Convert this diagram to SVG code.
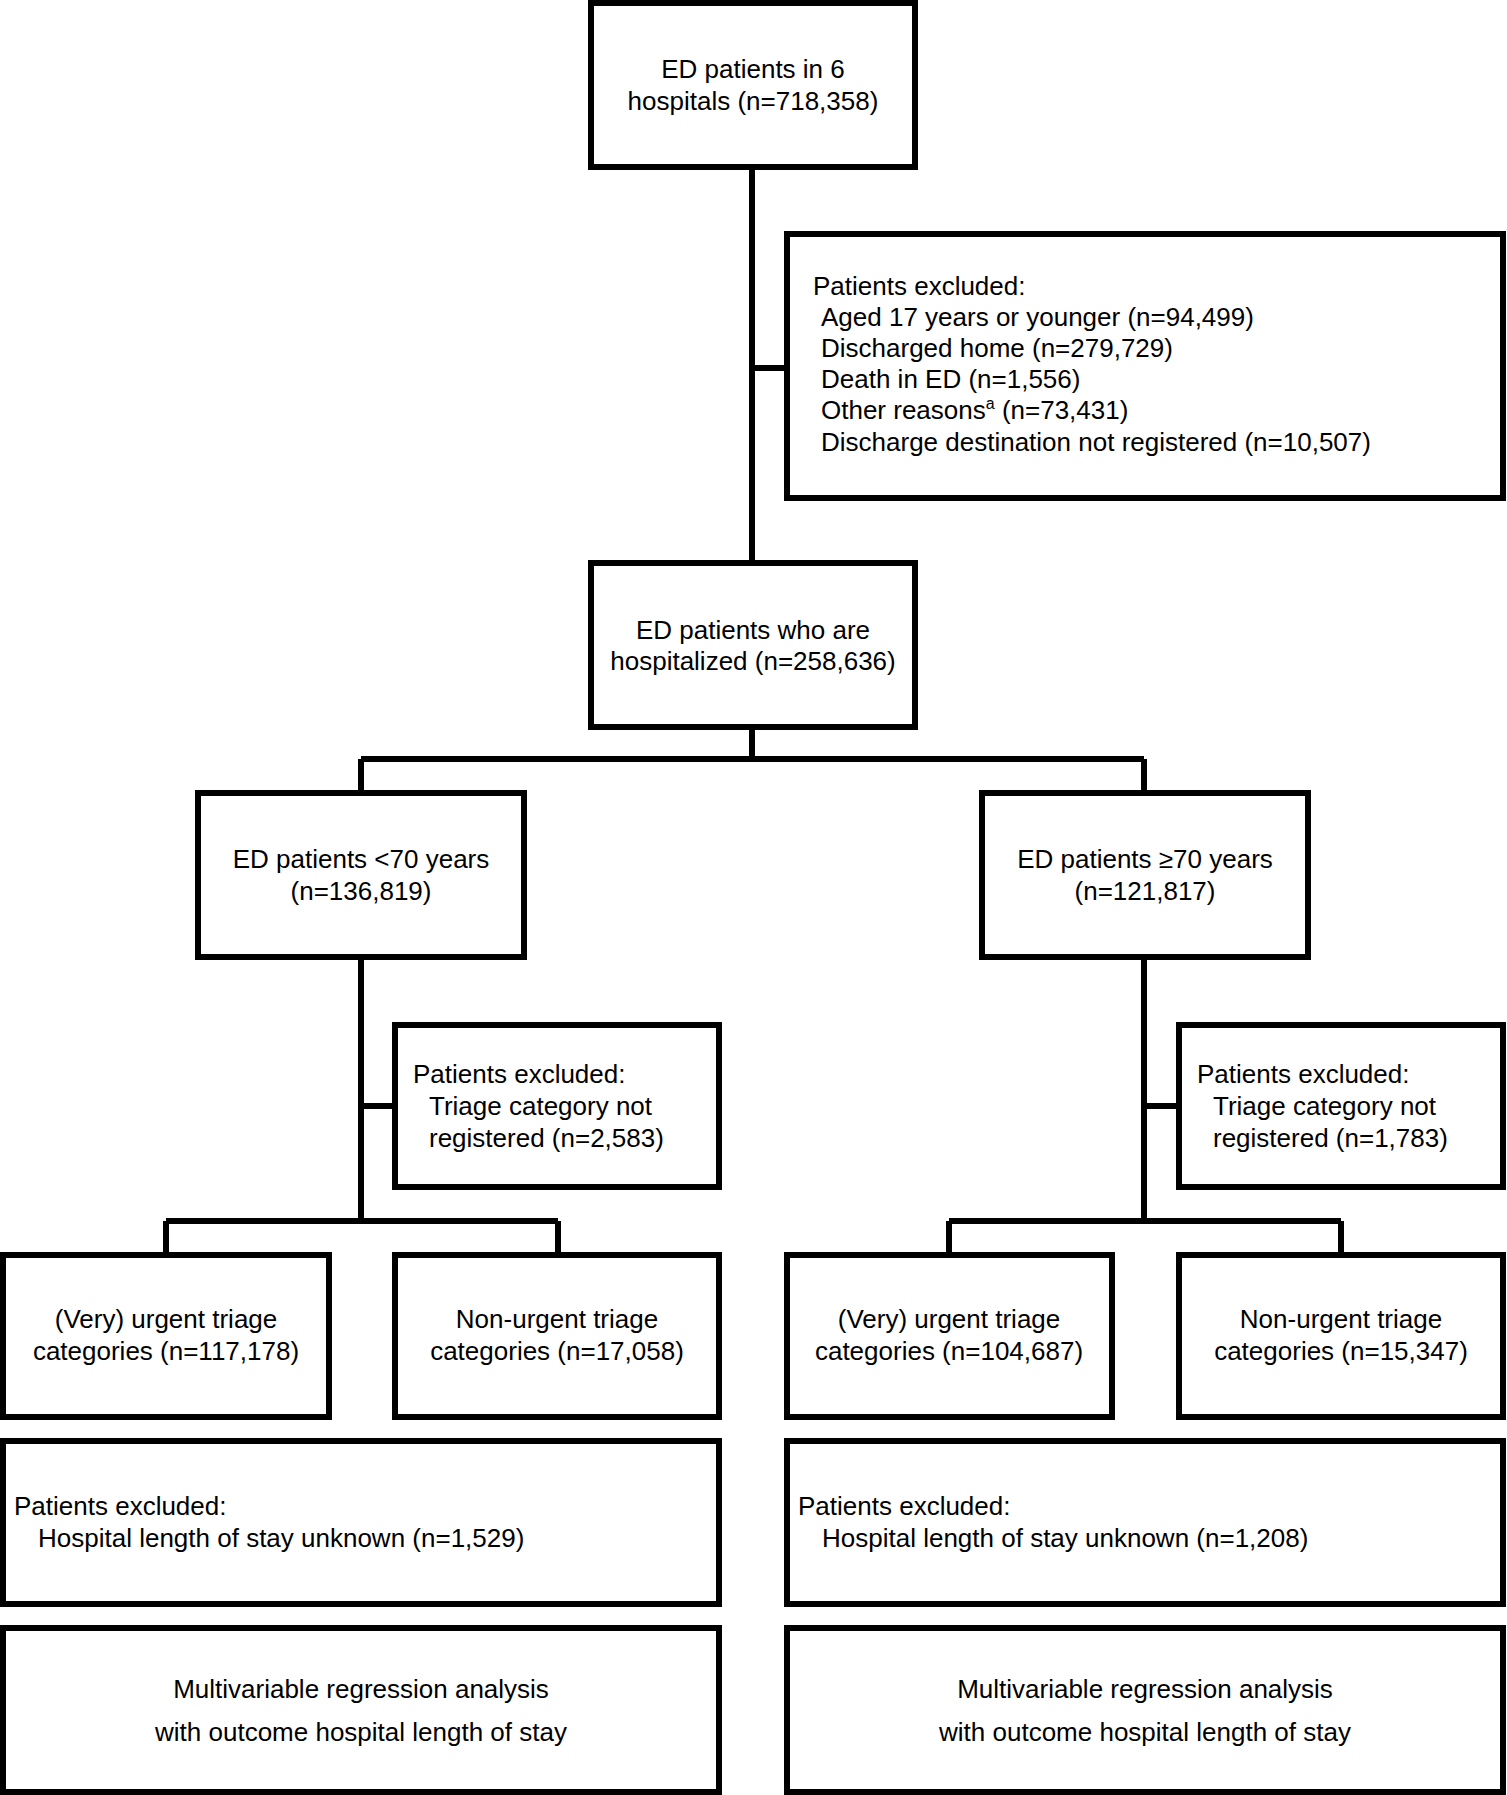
<svg xmlns="http://www.w3.org/2000/svg" width="1507" height="1795" viewBox="0 0 1507 1795">
<style>
rect{fill:#fff;stroke:#000;stroke-width:6}
.c{fill:none;stroke:#000;stroke-width:6}
text{font-family:"Liberation Sans",Arial,sans-serif;font-size:26px;fill:#000}
.m{text-anchor:middle}
</style>
<rect x="0" y="0" width="1507" height="1795" style="stroke:none"/>
<g id="connectors">
<path class="c" d="M752 167V563M752 368H787M752 727V759M361 759H1144M361 759V793M1144 759V793M361 957V1221M361 1106H395M166 1221H558M166 1221V1255M558 1221V1255M1144 957V1221M1144 1106H1179M949 1221H1341M949 1221V1255M1341 1221V1255"/>
</g>
<g id="n1"><rect x="591" y="3" width="324" height="164"/><text class="m" x="753" y="78">ED patients in 6</text><text class="m" x="753" y="110">hospitals (n=718,358)</text></g>
<g id="ex1"><rect x="787" y="234" width="716" height="264"/>
<text x="813" y="295">Patients excluded:</text>
<text x="821" y="326">Aged 17 years or younger (n=94,499)</text>
<text x="821" y="357">Discharged home (n=279,729)</text>
<text x="821" y="388">Death in ED (n=1,556)</text>
<text x="821" y="419">Other reasons<tspan font-size="16" dy="-10">a</tspan><tspan dy="10"> (n=73,431)</tspan></text>
<text x="821" y="451">Discharge destination not registered (n=10,507)</text></g>
<g id="n2"><rect x="591" y="563" width="324" height="164"/><text class="m" x="753" y="639">ED patients who are</text><text class="m" x="753" y="670">hospitalized (n=258,636)</text></g>
<g id="n3"><rect x="198" y="793" width="326" height="164"/><text class="m" x="361" y="868">ED patients &lt;70 years</text><text class="m" x="361" y="900">(n=136,819)</text></g>
<g id="n4"><rect x="982" y="793" width="326" height="164"/><text class="m" x="1145" y="868">ED patients ≥70 years</text><text class="m" x="1145" y="900">(n=121,817)</text></g>
<g id="ex2"><rect x="395" y="1025" width="324" height="162"/><text x="413" y="1083">Patients excluded:</text><text x="429" y="1115">Triage category not</text><text x="429" y="1147">registered (n=2,583)</text></g>
<g id="ex3"><rect x="1179" y="1025" width="324" height="162"/><text x="1197" y="1083">Patients excluded:</text><text x="1213" y="1115">Triage category not</text><text x="1213" y="1147">registered (n=1,783)</text></g>
<g id="n5"><rect x="3" y="1255" width="326" height="162"/><text class="m" x="166" y="1328">(Very) urgent triage</text><text class="m" x="166" y="1360">categories (n=117,178)</text></g>
<g id="n6"><rect x="395" y="1255" width="324" height="162"/><text class="m" x="557" y="1328">Non-urgent triage</text><text class="m" x="557" y="1360">categories (n=17,058)</text></g>
<g id="n7"><rect x="787" y="1255" width="325" height="162"/><text class="m" x="949" y="1328">(Very) urgent triage</text><text class="m" x="949" y="1360">categories (n=104,687)</text></g>
<g id="n8"><rect x="1179" y="1255" width="324" height="162"/><text class="m" x="1341" y="1328">Non-urgent triage</text><text class="m" x="1341" y="1360">categories (n=15,347)</text></g>
<g id="ex4"><rect x="3" y="1441" width="716" height="163"/><text x="14" y="1515">Patients excluded:</text><text x="38" y="1547">Hospital length of stay unknown (n=1,529)</text></g>
<g id="ex5"><rect x="787" y="1441" width="716" height="163"/><text x="798" y="1515">Patients excluded:</text><text x="822" y="1547">Hospital length of stay unknown (n=1,208)</text></g>
<g id="n9"><rect x="3" y="1628" width="716" height="164"/><text class="m" x="361" y="1698">Multivariable regression analysis</text><text class="m" x="361" y="1741">with outcome hospital length of stay</text></g>
<g id="n10"><rect x="787" y="1628" width="716" height="164"/><text class="m" x="1145" y="1698">Multivariable regression analysis</text><text class="m" x="1145" y="1741">with outcome hospital length of stay</text></g>
</svg>
